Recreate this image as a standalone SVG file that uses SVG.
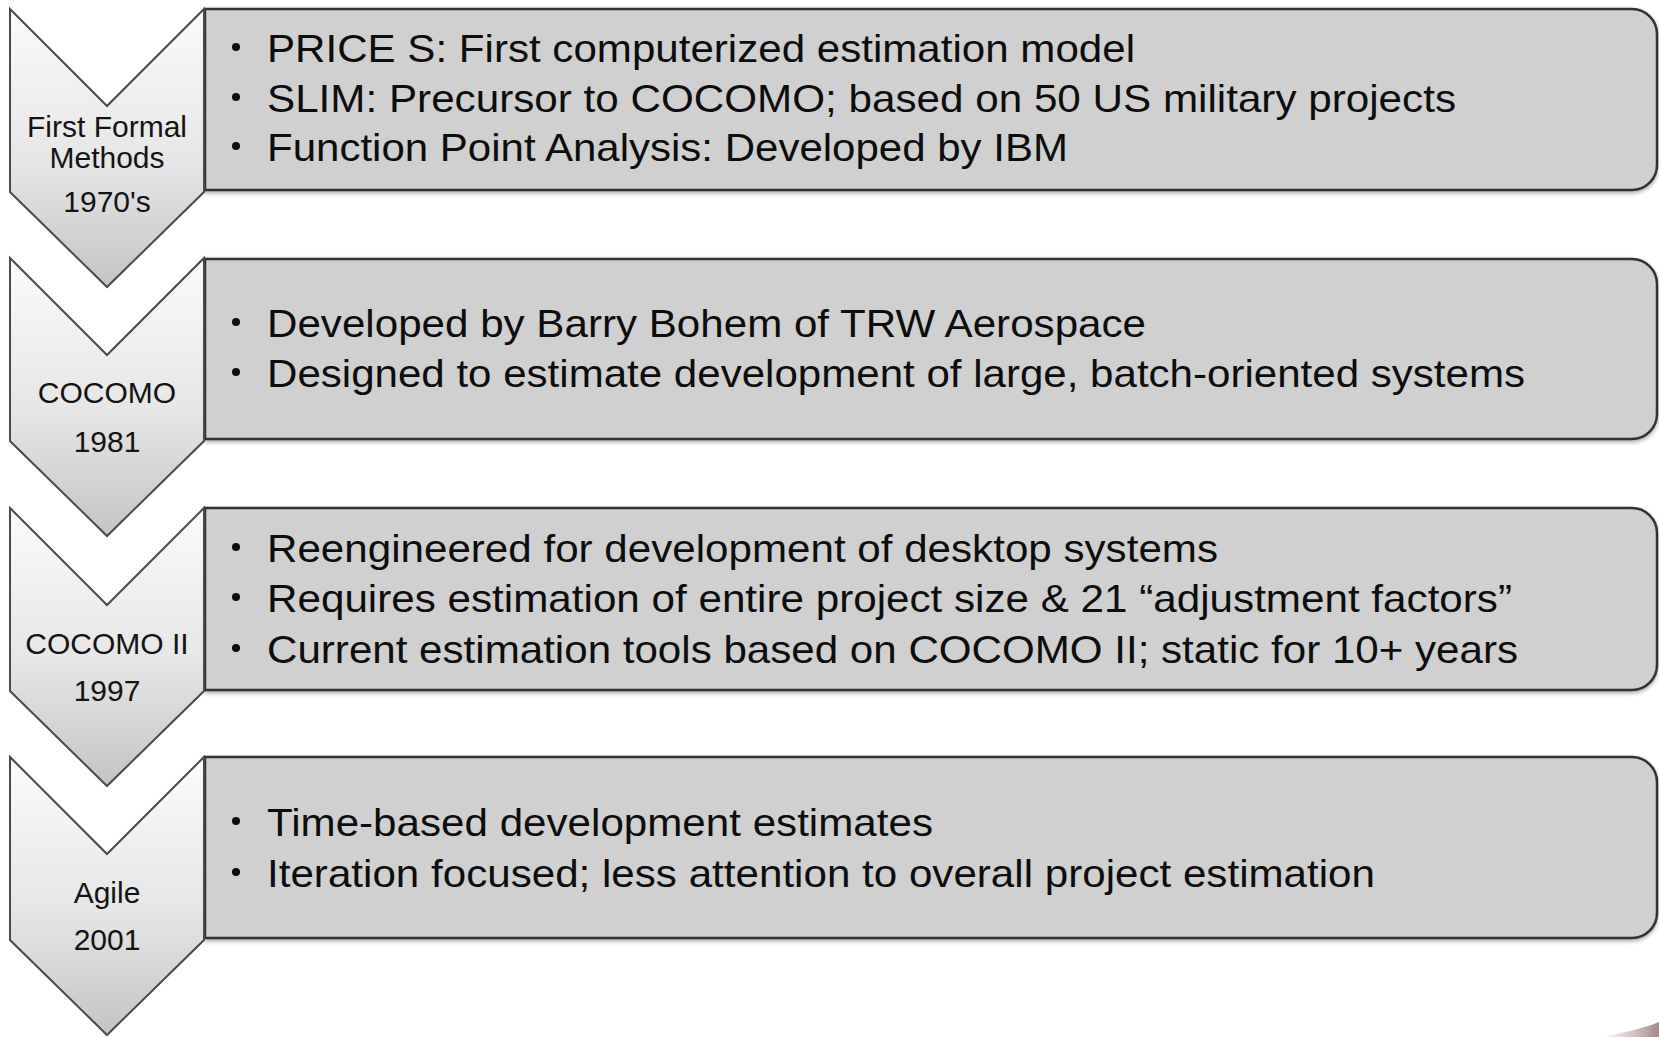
<svg xmlns="http://www.w3.org/2000/svg" width="1659" height="1037" viewBox="0 0 1659 1037">
  <style>
    .chev { fill: url(#chevFill); stroke: #4a4a4a; stroke-width: 2; stroke-linejoin: miter; }
    .box { fill: #d0d0d0; stroke: #333333; stroke-width: 2.5; filter: url(#soft); }
    .lbl { font-family: "Liberation Sans", Arial, sans-serif; font-size: 30px; fill: #141414; text-anchor: middle; }
    .item { font-family: "Liberation Sans", Arial, sans-serif; font-size: 39px; fill: #0d0d0d; }
    .dot { fill: #0d0d0d; }
  </style>
  <defs>
    <linearGradient id="chevFill" x1="0" y1="0" x2="0" y2="1">
      <stop offset="0" stop-color="#fbfbfb"/>
      <stop offset="0.55" stop-color="#e6e6e6"/>
      <stop offset="1" stop-color="#c4c4c4"/>
    </linearGradient>
    <linearGradient id="curl" x1="0" y1="0" x2="1" y2="0">
      <stop offset="0" stop-color="#b89a9a" stop-opacity="0"/>
      <stop offset="1" stop-color="#9a7a7a" stop-opacity="0.9"/>
    </linearGradient>
    <filter id="soft" x="-2%" y="-5%" width="104%" height="115%">
      <feGaussianBlur in="SourceAlpha" stdDeviation="2"/>
      <feOffset dx="0" dy="2" result="b"/>
      <feComponentTransfer><feFuncA type="linear" slope="0.35"/></feComponentTransfer>
      <feMerge><feMergeNode/><feMergeNode in="SourceGraphic"/></feMerge>
    </filter>
  </defs>

  <rect width="1659" height="1037" fill="#ffffff"/>

  <!-- Era 1 -->
  <g id="era-1970s">
    <path class="box" d="M205,9 H1632 A25,25 0 0 1 1657,34 V165 A25,25 0 0 1 1632,190 H205 Z"/>
    <path class="chev" d="M10,9 L107,106 L204,9 L204,192 L107,287 L10,192 Z"/>
    <text class="lbl" x="107" y="137">First Formal</text>
    <text class="lbl" x="107" y="168">Methods</text>
    <text class="lbl" x="107" y="212">1970's</text>
    <circle class="dot" cx="236" cy="47" r="4"/>
    <text class="item" x="267" y="62" textLength="868" lengthAdjust="spacingAndGlyphs">PRICE S: First computerized estimation model</text>
    <circle class="dot" cx="236" cy="97" r="4"/>
    <text class="item" x="267" y="112" textLength="1189" lengthAdjust="spacingAndGlyphs">SLIM: Precursor to COCOMO; based on 50 US military projects</text>
    <circle class="dot" cx="236" cy="146" r="4"/>
    <text class="item" x="267" y="161" textLength="801" lengthAdjust="spacingAndGlyphs">Function Point Analysis: Developed by IBM</text>
  </g>

  <!-- Era 2 -->
  <g id="era-cocomo">
    <path class="box" d="M205,259 H1632 A25,25 0 0 1 1657,284 V414 A25,25 0 0 1 1632,439 H205 Z"/>
    <path class="chev" d="M10,258 L107,355 L204,258 L204,441 L107,536 L10,441 Z"/>
    <text class="lbl" x="107" y="403">COCOMO</text>
    <text class="lbl" x="107" y="452">1981</text>
    <circle class="dot" cx="236" cy="322" r="4"/>
    <text class="item" x="267" y="337" textLength="879" lengthAdjust="spacingAndGlyphs">Developed by Barry Bohem of TRW Aerospace</text>
    <circle class="dot" cx="236" cy="372" r="4"/>
    <text class="item" x="267" y="387" textLength="1258" lengthAdjust="spacingAndGlyphs">Designed to estimate development of large, batch-oriented systems</text>
  </g>

  <!-- Era 3 -->
  <g id="era-cocomo2">
    <path class="box" d="M205,508 H1632 A25,25 0 0 1 1657,533 V665 A25,25 0 0 1 1632,690 H205 Z"/>
    <path class="chev" d="M10,508 L107,605 L204,508 L204,691 L107,786 L10,691 Z"/>
    <text class="lbl" x="107" y="654">COCOMO II</text>
    <text class="lbl" x="107" y="701">1997</text>
    <circle class="dot" cx="236" cy="547" r="4"/>
    <text class="item" x="267" y="562" textLength="951" lengthAdjust="spacingAndGlyphs">Reengineered for development of desktop systems</text>
    <circle class="dot" cx="236" cy="597" r="4"/>
    <text class="item" x="267" y="612" textLength="1245" lengthAdjust="spacingAndGlyphs">Requires estimation of entire project size &amp; 21 “adjustment factors”</text>
    <circle class="dot" cx="236" cy="648" r="4"/>
    <text class="item" x="267" y="663" textLength="1251" lengthAdjust="spacingAndGlyphs">Current estimation tools based on COCOMO II; static for 10+ years</text>
  </g>

  <!-- Era 4 -->
  <g id="era-agile">
    <path class="box" d="M205,757 H1632 A25,25 0 0 1 1657,782 V913 A25,25 0 0 1 1632,938 H205 Z"/>
    <path class="chev" d="M10,757 L107,854 L204,757 L204,940 L107,1035 L10,940 Z"/>
    <text class="lbl" x="107" y="903">Agile</text>
    <text class="lbl" x="107" y="950">2001</text>
    <circle class="dot" cx="236" cy="821" r="4"/>
    <text class="item" x="267" y="836" textLength="666" lengthAdjust="spacingAndGlyphs">Time-based development estimates</text>
    <circle class="dot" cx="236" cy="872" r="4"/>
    <text class="item" x="267" y="887" textLength="1108" lengthAdjust="spacingAndGlyphs">Iteration focused; less attention to overall project estimation</text>
  </g>

  <!-- no connectors between the stacked eras -->
  <g id="connectors"/>

  <!-- page-curl shading in the lower right corner -->
  <path d="M1600,1037 Q1640,1030 1659,1022 L1659,1037 Z" fill="url(#curl)"/>
</svg>
